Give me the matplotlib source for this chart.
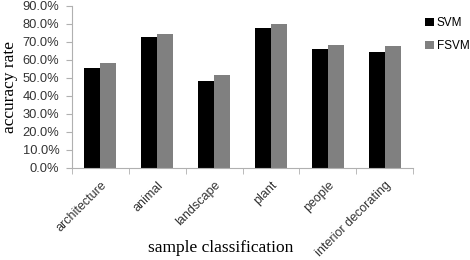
import matplotlib
matplotlib.use("Agg")
import matplotlib.pyplot as plt
import numpy as np

categories = ["architecture", "animal", "landscape", "plant", "people", "interior decorating"]
svm = [55.4, 72.9, 48.2, 77.6, 65.9, 64.4]
fsvm = [58.1, 74.4, 51.5, 80.0, 68.2, 67.6]
yticks = [0, 10, 20, 30, 40, 50, 60, 70, 80, 90]

fig = plt.figure(figsize=(4.7, 2.6), dpi=100)
ax = fig.add_axes([0.153, 0.354, 0.726, 0.623])

x = np.arange(len(categories))
w = 0.28
b1 = ax.bar(x - w/2, svm, w, color="#000000", label="SVM")
b2 = ax.bar(x + w/2, fsvm, w, color="#808080", label="FSVM")

ax.set_xlim(-0.5, len(categories) - 0.5)
ax.set_ylim(0, 90)
ax.set_yticks(yticks)
ax.set_yticklabels([f"{v:.1f}%" for v in yticks], fontsize=9.3, family="Liberation Sans", color="#333333")
ax.set_xticks(x)
ax.set_xticklabels(categories, rotation=45, ha="right", rotation_mode="anchor",
                   fontsize=9, family="Liberation Sans", color="#333333")
ax.tick_params(axis="x", length=0, pad=8)
ax.set_xticks(np.arange(-0.5, len(categories), 1), minor=True)
ax.tick_params(axis="x", which="minor", length=4, color="#b0b0b0", direction="out")
ax.tick_params(axis="y", length=4, color="#b0b0b0", direction="out", pad=5)

for s in ["top", "right"]:
    ax.spines[s].set_visible(False)
for s in ["left", "bottom"]:
    ax.spines[s].set_color("#b0b0b0")
    ax.spines[s].set_linewidth(0.8)

ax.set_ylabel("accuracy rate", family="Liberation Serif", fontsize=12.5, labelpad=3)
ax.set_xlabel("sample classification", family="Liberation Serif", fontsize=12.5)
ax.xaxis.set_label_coords(0.437, -0.494)
ax.xaxis.label.set_va("center")

fig.legend(handles=[b1, b2], labels=["SVM", "FSVM"], loc="upper left",
           bbox_to_anchor=(0.905, 0.935), frameon=False, borderpad=0, borderaxespad=0,
           handlelength=0.7, handleheight=0.7,
           handletextpad=0.25, labelspacing=0.95, prop={"family": "Liberation Sans", "size": 8.5})

fig.savefig("out.png", dpi=100)
